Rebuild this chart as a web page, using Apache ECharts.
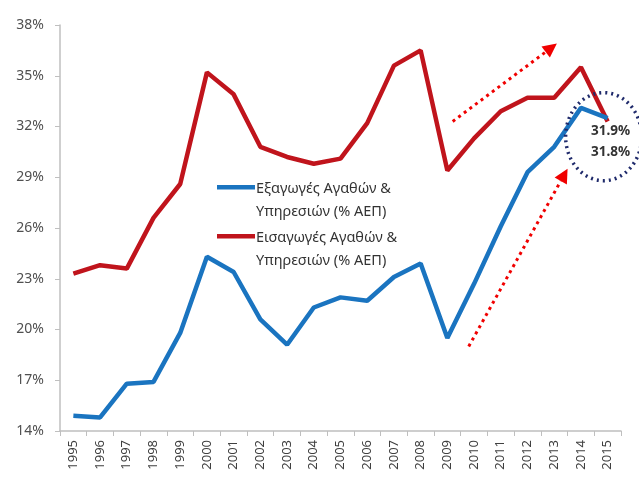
<!DOCTYPE html>
<html><head><meta charset="utf-8">
<script src="https://cdn.jsdelivr.net/npm/echarts@6/dist/echarts.min.js"></script>
<style>html,body{margin:0;padding:0;background:#fff}#c{width:639px;height:477px}</style>
</head><body><div id="c"></div>
<script>
var years = ['1995','1996','1997','1998','1999','2000','2001','2002','2003','2004','2005','2006','2007','2008','2009','2010','2011','2012','2013','2014','2015'];
var exportsPct = [14.9,14.8,16.8,16.9,19.8,24.3,23.4,20.6,19.1,21.3,21.9,21.7,23.1,23.9,19.5,22.7,26.1,29.3,30.8,33.1,32.5];
var importsPct = [23.3,23.8,23.6,26.6,28.6,35.2,33.9,30.8,30.2,29.8,30.1,32.2,35.6,36.5,29.4,31.3,32.9,33.7,33.7,35.5,32.3];
var exportsName = 'Εξαγωγές Αγαθών &\nΥπηρεσιών (% ΑΕΠ)';
var importsName = 'Εισαγωγές Αγαθών &\nΥπηρεσιών (% ΑΕΠ)';
var yTicks = {min:14, max:38, interval:3};
var endLabels = ['31.9%','31.8%'];
// annotation anchors in data space [category index, value]
var arrow1 = [[14.2,32.3],[18.1,36.9]];
var arrow2 = [[14.8,19.0],[18.5,29.5]];
var circleCenter = [19.85,31.4];

var font = 'Noto Sans';
// legend swatch: bar at the top of a taller, otherwise empty box
var legendIcon = 'path://M0,0H38V4.5H0Z M0,29.9H0.01V30H0Z';
var chart = echarts.init(document.getElementById('c'));
chart.setOption({
  animation:false,
  textStyle:{fontFamily:font},
  grid:{left:60,right:18,top:25,bottom:46},
  legend:{
    orient:'vertical', left:212, top:172, itemWidth:38, itemHeight:30, itemGap:3,
    icon:legendIcon, symbolKeepAspect:false,
    textStyle:{fontSize:14.5,color:'#333',lineHeight:23,fontFamily:font,padding:[0,0,0,-4]},
    data:[exportsName, importsName]
  },
  xAxis:{
    type:'category', data:years, boundaryGap:true,
    axisLine:{lineStyle:{color:'#bfbfbf',width:1.5}},
    axisTick:{show:true,length:5,lineStyle:{color:'#bfbfbf'}},
    axisLabel:{rotate:90,color:'#404040',fontSize:13,margin:9,interval:0}
  },
  yAxis:{
    type:'value', min:yTicks.min, max:yTicks.max, interval:yTicks.interval,
    axisLine:{show:true,lineStyle:{color:'#bfbfbf',width:1.5}},
    axisTick:{show:true,inside:false,length:5,lineStyle:{color:'#bfbfbf'}},
    splitLine:{show:false},
    axisLabel:{formatter:'{value}%',color:'#505050',fontSize:14,margin:16}
  },
  series:[
    {name:exportsName,type:'line',data:exportsPct,symbol:'none',lineStyle:{color:'#1a74c0',width:4.5},itemStyle:{color:'#1a74c0'},z:3},
    {name:importsName,type:'line',data:importsPct,symbol:'none',lineStyle:{color:'#c0141c',width:4.5},itemStyle:{color:'#c0141c'},z:2}
  ]
});

function idxPx(p){
  var a = chart.convertToPixel({gridIndex:0},[0,p[1]]);
  var b = chart.convertToPixel({gridIndex:0},[1,p[1]]);
  return [a[0]+(b[0]-a[0])*p[0], a[1]];
}
function arrowGraphics(seg){
  var s = idxPx(seg[0]), e = idxPx(seg[1]);
  var dx=e[0]-s[0], dy=e[1]-s[1], L=Math.sqrt(dx*dx+dy*dy), ux=dx/L, uy=dy/L;
  var head=14, hw=7;
  var bx=e[0]-ux*head, by=e[1]-uy*head;
  return [
    {type:'line',shape:{x1:s[0],y1:s[1],x2:bx,y2:by},style:{stroke:'#f00000',lineWidth:3,lineDash:[3,4]},z:10},
    {type:'polygon',shape:{points:[[e[0],e[1]],[bx-uy*hw,by+ux*hw],[bx+uy*hw,by-ux*hw]]},style:{fill:'#f00000'},z:10}
  ];
}
var c = idxPx(circleCenter);
var g = [].concat(arrowGraphics(arrow1), arrowGraphics(arrow2));
g.push({type:'ellipse',shape:{cx:c[0],cy:c[1],rx:38,ry:44},style:{fill:null,stroke:'#1f2a6b',lineWidth:3.5,lineDash:[2,4]},z:10});
g.push({type:'text',style:{text:endLabels[0],x:c[0]+7,y:c[1]-5,align:'center',verticalAlign:'middle',font:'bold 13.5px "'+font+'"',fill:'#333'},z:11});
g.push({type:'text',style:{text:endLabels[1],x:c[0]+7,y:c[1]+16,align:'center',verticalAlign:'middle',font:'bold 13.5px "'+font+'"',fill:'#333'},z:11});
chart.setOption({graphic:g});
</script></body></html>
